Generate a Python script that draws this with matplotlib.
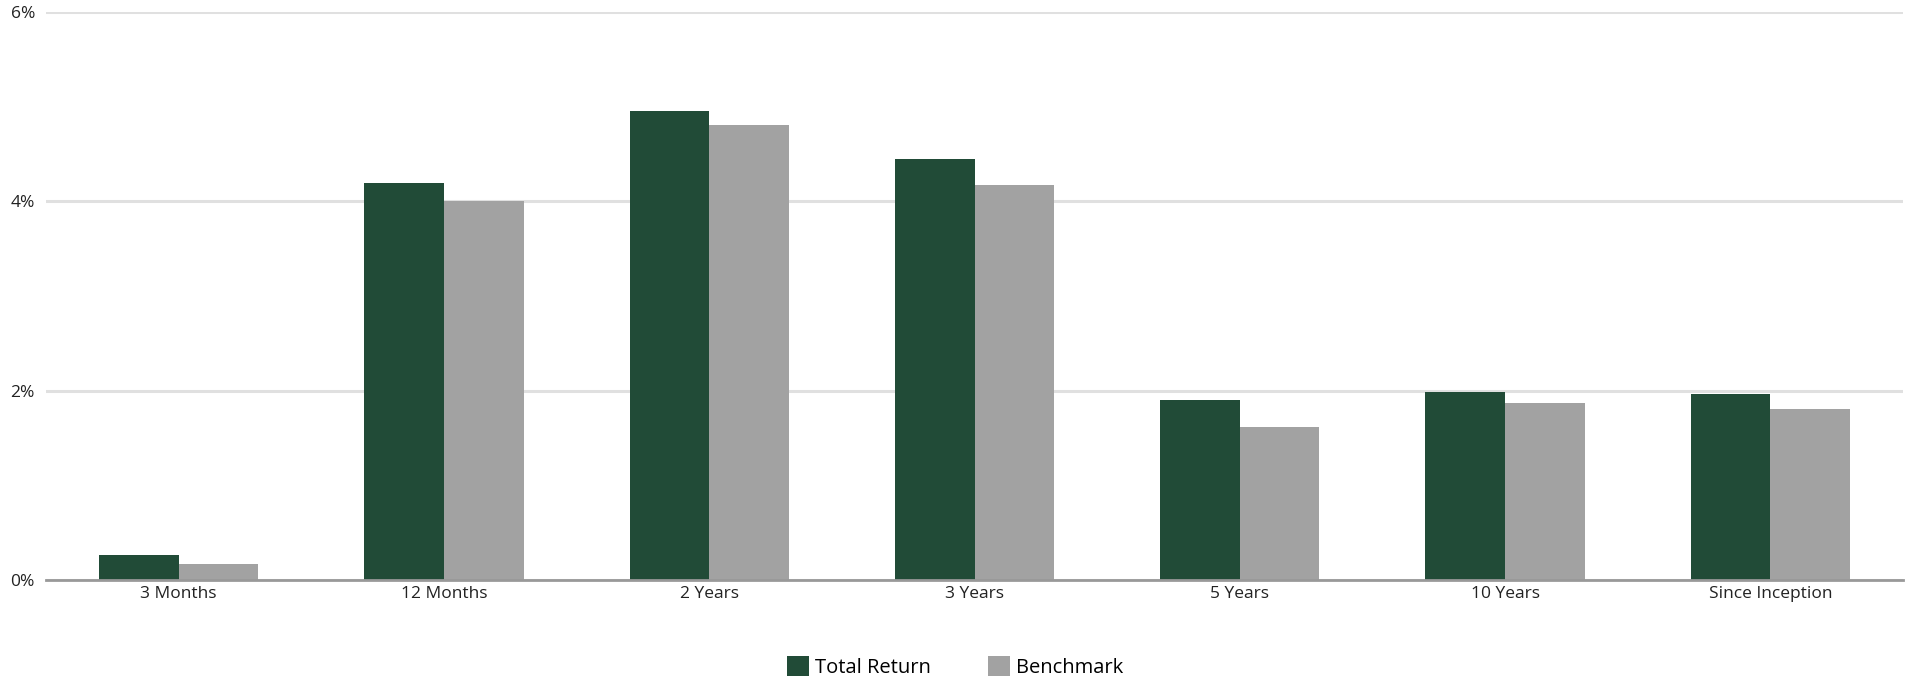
import matplotlib
matplotlib.use("Agg")
import matplotlib.pyplot as plt
import numpy as np
from matplotlib.ticker import FuncFormatter

categories = ["3 Months", "12 Months", "2 Years", "3 Years", "5 Years", "10 Years", "Since Inception"]
total_return = [0.26, 4.19, 4.95, 4.45, 1.90, 1.99, 1.96]
benchmark = [0.17, 4.00, 4.81, 4.17, 1.62, 1.87, 1.81]
series_names = ["Total Return", "Benchmark"]
yticks = [0, 2, 4, 6]

plt.rcParams['font.family'] = ['Open Sans', 'DejaVu Sans']

W, H = 1910, 683
fig = plt.figure(figsize=(W/100, H/100), dpi=100)
left, right, top, bottom = 46, 1903, 12, 580
ax = fig.add_axes([left/W, 1 - bottom/H, (right-left)/W, (bottom-top)/H])

x = np.arange(len(categories))
bw = 0.3
ax.bar(x - bw/2, total_return, bw, color="#214b37", label=series_names[0], zorder=3)
ax.bar(x + bw/2, benchmark, bw, color="#a2a2a2", label=series_names[1], zorder=3)

ax.set_xlim(-0.5, len(categories) - 0.5)
ax.set_ylim(0, 6)
ax.set_yticks(yticks)
ax.yaxis.set_major_formatter(FuncFormatter(lambda v, p: f"{v:.0f}%"))
ax.set_xticks(x)
ax.set_xticklabels(categories)
ax.grid(axis='y', color="#e0e0e0", linewidth=2.2, zorder=0)
ax.set_axisbelow(True)
for s in ['top', 'right', 'left']:
    ax.spines[s].set_visible(False)
ax.spines['bottom'].set_color("#999999")
ax.spines['bottom'].set_linewidth(2)
ax.spines['bottom'].set_zorder(4)
ax.tick_params(axis='both', length=0, labelsize=12.5, colors="#222222")
ax.tick_params(axis='y', pad=8)
ax.tick_params(axis='x', pad=4)

leg = fig.legend(loc='center', bbox_to_anchor=(0.5, 1 - 667/H), ncol=2, frameon=False,
                 fontsize=14.5, handlelength=1.1, handleheight=1.1, handletextpad=0.3,
                 columnspacing=2.8)
fig.savefig("out.png", dpi=100)
